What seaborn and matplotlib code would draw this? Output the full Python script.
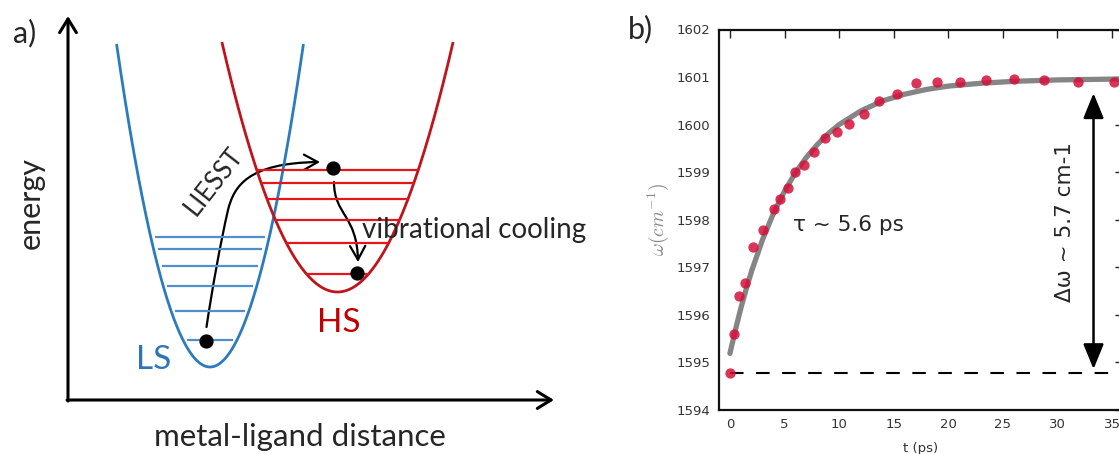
import numpy as np
import pandas as pd
import matplotlib
matplotlib.use("Agg")
import matplotlib.pyplot as plt
from matplotlib.patches import FancyArrowPatch
from matplotlib.path import Path
import seaborn as sns

# ---------------- data: panel b ----------------
t_data = [0.0, 0.34, 0.8, 1.4, 2.14, 3.0, 4.04, 4.59, 5.29, 5.96, 6.82, 7.7, 8.68,
          9.78, 10.94, 12.29, 13.67, 15.29, 17.03, 18.95, 21.03, 23.42, 25.99,
          28.74, 31.86, 35.22]
w_data = [1594.77, 1595.60, 1596.40, 1596.68, 1597.43, 1597.78, 1598.22, 1598.43,
          1598.66, 1599.00, 1599.15, 1599.42, 1599.72, 1599.85, 1600.02, 1600.23,
          1600.50, 1600.64, 1600.87, 1600.89, 1600.89, 1600.94, 1600.96, 1600.94,
          1600.89, 1600.89]
t_fit = [0, 0.5, 1, 1.5, 2, 3, 4, 5, 6, 7, 8, 9, 10, 12, 14, 16, 18, 20, 23, 26, 30, 36]
w_fit = [1595.19, 1595.68, 1596.14, 1596.55, 1596.93, 1597.59, 1598.14, 1598.60,
         1598.99, 1599.31, 1599.58, 1599.81, 1600.00, 1600.29, 1600.50, 1600.64,
         1600.74, 1600.81, 1600.87, 1600.91, 1600.94, 1600.96]
baseline_w = 1594.77
baseline_t = [0, 36]
arrow_t = 33.3
arrow_w = [1594.86, 1600.66]
x_ticks = [0, 5, 10, 15, 20, 25, 30, 35]
y_ticks = [1594, 1595, 1596, 1597, 1598, 1599, 1600, 1601, 1602]
tau_label = "τ ~ 5.6 ps"
dw_label = "Δω ~ 5.7 cm-1"

# ---------------- schematic: panel a (pixel-like units) ----------------
ls_center, ls_bottom, ls_k, ls_top = 210, 367, 0.037, 44
hs_center, hs_bottom, hs_k, hs_top = 337.5, 292, 0.0187, 42
ls_levels = [237.3, 249.3, 265.7, 286, 310.7, 340]
hs_levels = [170, 182.7, 199, 220, 243.3, 274]
dots_x = [205.7, 333.3, 357]
dots_y = [340.7, 167.7, 272.7]

sns.set_theme(style="white")
plt.rcParams["font.family"] = ["DejaVu Sans"]
plt.rcParams["mathtext.fontset"] = "cm"

fig = plt.figure(figsize=(11.19, 4.54), dpi=100)

# ===== panel a =====
ax_a = fig.add_axes([0, 0, 600 / 1119, 1])
ax_a.set_xlim(0, 600)
ax_a.set_ylim(454, 0)
ax_a.axis("off")

LS_CURVE = "#2B7BBF"
LS_LEVEL = "#4F8FCC"
HS_CURVE = "#C0141C"
HS_LEVEL = "#E3161C"

def parabola(center, bottom, k, top):
    half = np.sqrt((bottom - top) / k)
    xs = np.linspace(center - half, center + half, 300)
    return xs, bottom - k * (xs - center) ** 2

xs, ys = parabola(ls_center, ls_bottom, ls_k, ls_top)
ax_a.plot(xs, ys, color=LS_CURVE, lw=2.0, solid_capstyle="butt")
xs, ys = parabola(hs_center, hs_bottom, hs_k, hs_top)
ax_a.plot(xs, ys, color=HS_CURVE, lw=2.0, solid_capstyle="butt")

for y in ls_levels:
    h = np.sqrt((ls_bottom - y) / ls_k) - 4
    ax_a.hlines(y, ls_center - h, ls_center + h, color=LS_LEVEL, lw=1.6)
for y in hs_levels:
    h = np.sqrt((hs_bottom - y) / hs_k)
    ax_a.hlines(y, hs_center - h, hs_center + h, color=HS_LEVEL, lw=1.6)

ax_a.scatter(dots_x, dots_y, s=105, color="black", zorder=5, linewidths=0)

# axes arrows
for a, b in [((68, 401), (68, 16)), ((67, 400), (554, 400))]:
    ax_a.add_patch(FancyArrowPatch(a, b, arrowstyle="->,head_length=0.9,head_width=0.55",
                                   mutation_scale=11, lw=2.2, color="black",
                                   shrinkA=0, shrinkB=0))

# LIESST arrow
verts = [(206.5, 327), (212, 290), (220, 245), (228, 210),
         (234, 186), (248, 163), (320, 162)]
codes = [Path.MOVETO, Path.CURVE4, Path.CURVE4, Path.CURVE4,
         Path.CURVE4, Path.CURVE4, Path.CURVE4]
ax_a.add_patch(FancyArrowPatch(path=Path(verts, codes),
                               arrowstyle="->,head_length=0.9,head_width=0.5",
                               mutation_scale=11, lw=1.6, color="black"))
# vibrational cooling arrow
verts = [(334, 182), (334, 215), (357, 215), (358, 262)]
codes = [Path.MOVETO, Path.CURVE4, Path.CURVE4, Path.CURVE4]
ax_a.add_patch(FancyArrowPatch(path=Path(verts, codes),
                               arrowstyle="->,head_length=0.9,head_width=0.5",
                               mutation_scale=11, lw=1.6, color="black"))

LFONT = ["Lato", "DejaVu Sans"]
ax_a.text(25, 33, "a)", fontsize=22, family=LFONT, ha="center", va="center")
ax_a.text(31, 203, "energy", fontsize=22, family=LFONT, rotation=90,
          ha="center", va="center")
ax_a.text(300, 446, "metal-ligand distance", fontsize=22.5, family=LFONT,
          ha="center", va="baseline")
ax_a.text(214, 181, "LIESST", fontsize=18.5, family=LFONT, rotation=52,
          ha="center", va="center", rotation_mode="anchor")
ax_a.text(362, 238, "vibrational cooling", fontsize=20, family=LFONT,
          ha="left", va="baseline")
ax_a.text(154, 360, "LS", fontsize=24, family=LFONT, color="#2E75B6",
          ha="center", va="center")
ax_a.text(339, 323.5, "HS", fontsize=24, family=LFONT, color="#C00000",
          ha="center", va="center")

# ===== panel b =====
fig.text(640 / 1119, 1 - 29 / 454, "b)", fontsize=22, family=LFONT,
         ha="center", va="center")

ax = fig.add_axes([719 / 1119, (454 - 410) / 454, 404 / 1119, 380.5 / 454])
df_fit = pd.DataFrame({"t": t_fit, "w": w_fit})
df_pts = pd.DataFrame({"t": t_data, "w": w_data})
sns.lineplot(data=df_fit, x="t", y="w", ax=ax, color="#7f7f7f", lw=3.8,
             alpha=0.95, zorder=2)
ax.plot(baseline_t, [baseline_w, baseline_w], color="black", lw=1.5,
        dashes=(6.5, 6), zorder=2)
sns.scatterplot(data=df_pts, x="t", y="w", ax=ax, color="#D4103A", s=55,
                alpha=0.85, linewidth=0, zorder=3)
ax.annotate("", xy=(arrow_t, arrow_w[1]), xytext=(arrow_t, arrow_w[0]),
            arrowprops=dict(arrowstyle="<|-|>,head_length=1.1,head_width=0.45",
                            mutation_scale=14, lw=1.8, color="black",
                            shrinkA=0, shrinkB=0))
ax.text(5.8, 1597.9, tau_label, fontsize=15.5, ha="left", va="center")
ax.text(30.7, 1597.95, dw_label, fontsize=15.5, rotation=90,
        ha="center", va="center")

ax.set_xlim(-1, 36)
ax.set_ylim(1594, 1602)
ax.set_xticks(x_ticks)
ax.set_yticks(y_ticks)
ax.tick_params(direction="in", top=True, right=True, length=6, width=1,
               labelsize=9.5, labelcolor="#333333", pad=6, color="#222222")
for s in ax.spines.values():
    s.set_linewidth(1.6)
    s.set_color("#111111")
ax.set_xlabel("t (ps)", fontsize=9.5, color="#333333")
ax.xaxis.set_label_coords(0.5, -0.085)
ax.set_ylabel("")
ax.text(-0.15, 0.5, r"$\omega(cm^{-1})$", transform=ax.transAxes, rotation=90,
        ha="center", va="center", fontsize=14, color="#8a8a8a")
ax.grid(False)

fig.savefig("out.png", dpi=100)
